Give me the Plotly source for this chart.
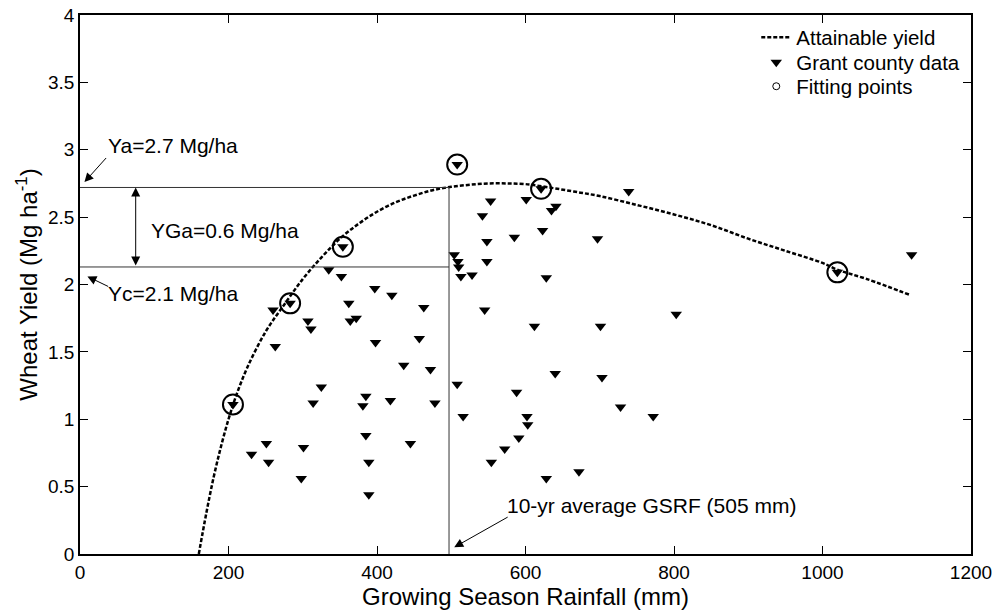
import plotly.graph_objects as go

# attainable yield curve
curve_x = [160, 170, 180, 190, 200, 210, 225, 250, 275, 300, 325, 350, 375, 400, 425,
           450, 475, 500, 525, 550, 575, 600, 632, 665, 700, 750, 800, 850, 900, 950,
           1000, 1020, 1060, 1119]
curve_y = [0, 0.30, 0.57, 0.80, 1.00, 1.17, 1.38, 1.65, 1.85, 2.04, 2.20, 2.34, 2.45, 2.54, 2.61,
           2.66, 2.70, 2.725, 2.74, 2.75, 2.75, 2.745, 2.72, 2.69, 2.656, 2.59, 2.52, 2.44, 2.34, 2.25,
           2.16, 2.11, 2.04, 1.92]

# Grant county data
grant_x = [335, 352, 397, 420, 362, 463, 260, 283, 307, 311, 364, 372, 263, 398,
           457, 436, 472, 325, 314, 385, 381, 418, 478, 206, 251, 231, 254, 301,
           385, 445, 389, 298, 389, 354,
           508, 621, 1020, 504, 509, 510, 548, 513, 528, 545, 508, 516, 554, 553,
           601, 542, 641, 635, 548, 585, 623, 697, 628, 612, 701, 640, 703, 588,
           728, 602, 603, 591, 572, 628, 672, 772, 739, 803, 1120]
grant_y = [2.11, 2.06, 1.97, 1.92, 1.86, 1.83, 1.81, 1.86, 1.73, 1.67, 1.73, 1.75, 1.54, 1.57,
           1.60, 1.40, 1.37, 1.24, 1.12, 1.17, 1.10, 1.14, 1.12, 1.11, 0.82, 0.74, 0.68, 0.79,
           0.88, 0.82, 0.68, 0.56, 0.44, 2.28,
           2.89, 2.71, 2.09, 2.22, 2.17, 2.13, 2.17, 2.06, 2.07, 1.81, 1.26, 1.02, 0.68, 2.62,
           2.63, 2.51, 2.58, 2.55, 2.32, 2.35, 2.40, 2.34, 2.05, 1.69, 1.69, 1.34, 1.31, 1.20,
           1.09, 1.02, 0.96, 0.86, 0.78, 0.56, 0.61, 1.02, 2.69, 1.78, 2.22]

# fitting points
fit_x = [206, 283, 354, 508, 621, 1020]
fit_y = [1.11, 1.86, 2.28, 2.89, 2.71, 2.09]

ya = 2.72
yc = 2.13
gsrf = 497

font = "Liberation Sans, Arial, sans-serif"

fig = go.Figure()
fig.add_trace(go.Scatter(
    x=curve_x, y=curve_y, mode="lines", name="Attainable yield", legend="legend",
    line=dict(color="black", width=2.5, dash="4px,2px", shape="spline")
))
fig.add_trace(go.Scatter(
    x=grant_x, y=grant_y, mode="markers", name="Grant county data", legend="legend2",
    marker=dict(symbol="triangle-down", size=10, color="black")
))
fig.add_trace(go.Scatter(
    x=fit_x, y=fit_y, mode="markers", name="Fitting points", showlegend=False,
    marker=dict(symbol="circle-open", size=20, color="black", line=dict(width=2))
))
# small legend symbol for the fitting points, like the original
fig.add_trace(go.Scatter(
    x=[None], y=[None], mode="markers", name="Fitting points", legend="legend3",
    marker=dict(symbol="circle-open", size=7, color="black", line=dict(width=1))
))

# reference lines
fig.add_shape(type="line", x0=0, x1=gsrf, y0=ya, y1=ya, line=dict(color="#333", width=1))
fig.add_shape(type="line", x0=0, x1=gsrf, y0=yc, y1=yc, line=dict(color="#333", width=1))
fig.add_shape(type="line", x0=gsrf, x1=gsrf, y0=0, y1=ya, line=dict(color="#333", width=1))

arrow = dict(showarrow=True, arrowhead=2, arrowsize=1.8, arrowwidth=1, arrowcolor="black",
             axref="x", ayref="y", text="")
fig.add_annotation(x=6, y=2.76, ax=37, ay=2.95, **arrow)
fig.add_annotation(x=10, y=2.06, ax=40, ay=1.98, **arrow)
fig.add_annotation(x=504, y=0.05, ax=578, ay=0.28, **arrow)
fig.add_annotation(x=75, y=ya, ax=75, ay=yc, arrowside="end+start", **arrow)

txt = dict(showarrow=False, xanchor="left", font=dict(family=font, size=21, color="black"))
fig.add_annotation(x=35, y=3.03, text="Ya=2.7 Mg/ha", **txt)
fig.add_annotation(x=35, y=1.93, text="Yc=2.1 Mg/ha", **txt)
fig.add_annotation(x=93, y=2.40, text="YGa=0.6 Mg/ha", **txt)
fig.add_annotation(x=573, y=0.36, text="10-yr average GSRF (505 mm)", **txt)

axis = dict(showline=True, linecolor="black", linewidth=1.5, mirror="ticks", ticks="inside",
            ticklen=8, tickcolor="black", showgrid=False, zeroline=False, automargin=False,
            ticklabelstandoff=0, ticklabeloverflow="allow",
            tickfont=dict(family=font, size=19, color="black"))
fig.update_xaxes(range=[0, 1200], dtick=200,
                 title=dict(text="Growing Season Rainfall (mm)",
                            font=dict(family=font, size=24, color="black"), standoff=6), **axis)
fig.update_yaxes(range=[0, 4], dtick=0.5,
                 title=dict(text="Wheat Yield (Mg ha<sup>-1</sup>)",
                            font=dict(family=font, size=24, color="black"), standoff=4), **axis)

leg = dict(x=0.759, xanchor="left", yanchor="top", bgcolor="rgba(0,0,0,0)",
           font=dict(family=font, size=20.5, color="black"))
fig.update_layout(
    width=993, height=603,
    margin=dict(l=72, r=30, t=7, b=57),
    plot_bgcolor="white", paper_bgcolor="white",
    font=dict(family=font, color="black"),
    legend=dict(y=0.9955, **leg),
    legend2=dict(y=0.949, **leg),
    legend3=dict(y=0.9046, **leg),
)

fig.write_html("out.html")
